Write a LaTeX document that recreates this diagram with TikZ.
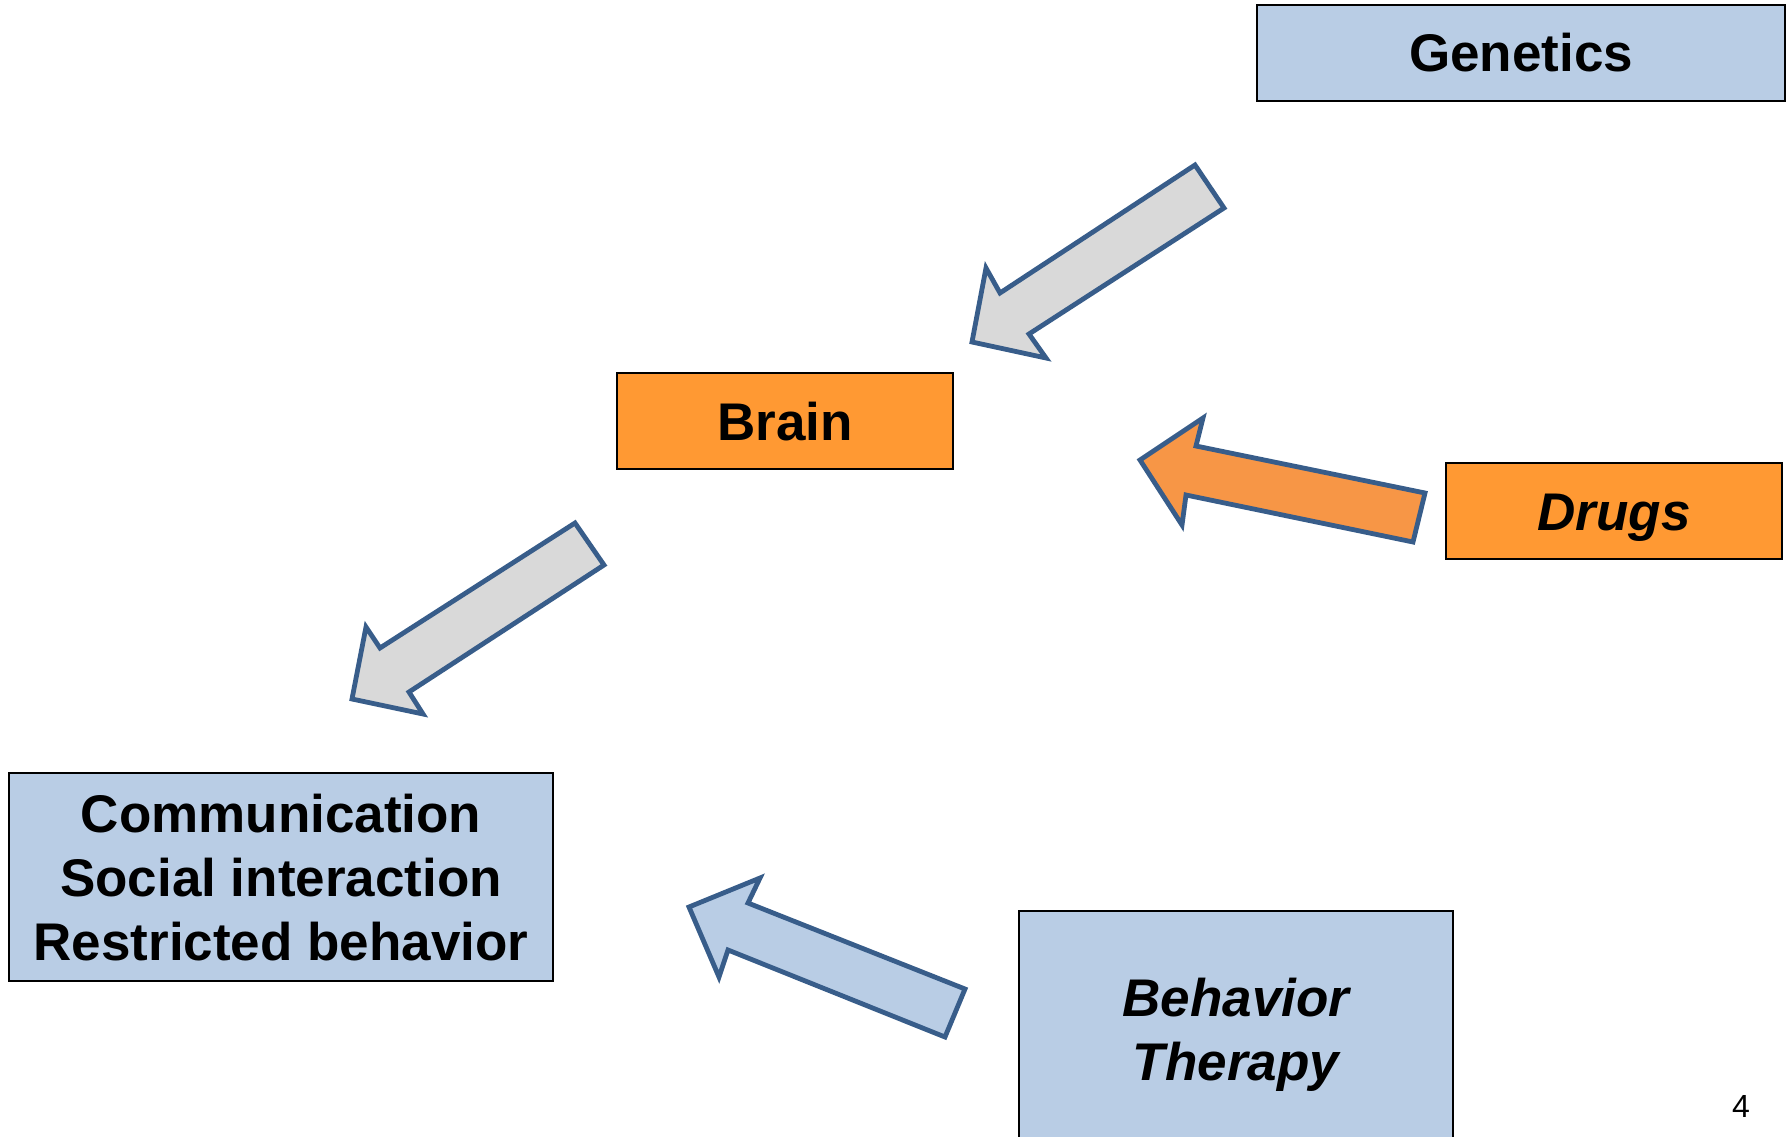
\documentclass[tikz,border=0pt]{standalone}
\usepackage{fontspec}
\setmainfont{Liberation Sans}
\definecolor{boxblue}{HTML}{B9CDE5}
\definecolor{boxorange}{HTML}{FF9933}
\definecolor{arrorange}{HTML}{F79646}
\definecolor{arrgray}{HTML}{D9D9D9}
\definecolor{arredge}{HTML}{385D8A}
\begin{document}
\begin{tikzpicture}[x=1pt,y=-1pt,
  box/.style={draw=black, line width=2.3pt, inner sep=0pt, align=center,
    text height=38pt, text depth=0pt,
    font=\bfseries\fontsize{53}{64}\selectfont},
  blockarrow/.style={draw=arredge, line width=4.8pt, line join=miter}]
\useasboundingbox[fill=white] (0,0) rectangle (1792,1137);

\node[box, fill=boxblue, minimum width=528pt, minimum height=96pt] (gen) at (1521,53) {Genetics};
\node[box, fill=boxorange, minimum width=336pt, minimum height=96pt] (brain) at (785,421) {Brain};
\node[box, fill=boxorange, minimum width=336pt, minimum height=96pt] (drugs) at (1614,511) {\itshape Drugs};
\node[box, fill=boxblue, minimum width=544pt, minimum height=208pt, text height=166pt] (comm) at (281,877) {Communication\\Social interaction\\Restricted behavior};
\node[box, fill=boxblue, minimum width=434pt, minimum height=236pt, text height=102pt] (beh) at (1236,1029) {\itshape Behavior\\\itshape Therapy};

% Genetics -> Brain
\draw[blockarrow, fill=arrgray] (1195,165) -- (1224,208) -- (1029,334) -- (1046,358) -- (972,342) -- (986,268) -- (1000,293) -- cycle;
% Brain -> behaviour box
\draw[blockarrow, fill=arrgray] (575,523) -- (604,565) -- (409,692) -- (423,714) -- (352,699) -- (366,627) -- (380,648) -- cycle;
% Drugs -> Brain
\draw[blockarrow, fill=arrorange] (1425,493) -- (1413,542) -- (1186,495) -- (1182,525) -- (1140,460) -- (1203,418) -- (1196,446) -- cycle;
% Behavior Therapy -> behaviour box
\draw[blockarrow, fill=boxblue] (965,989) -- (945,1037) -- (728,950) -- (719,977) -- (689,907) -- (760,878) -- (748,903) -- cycle;

\node[font=\fontsize{32}{38}\selectfont, inner sep=0pt, text height=23pt, text depth=0pt] (pg) at (1741,1106) {4};
\end{tikzpicture}
\end{document}
